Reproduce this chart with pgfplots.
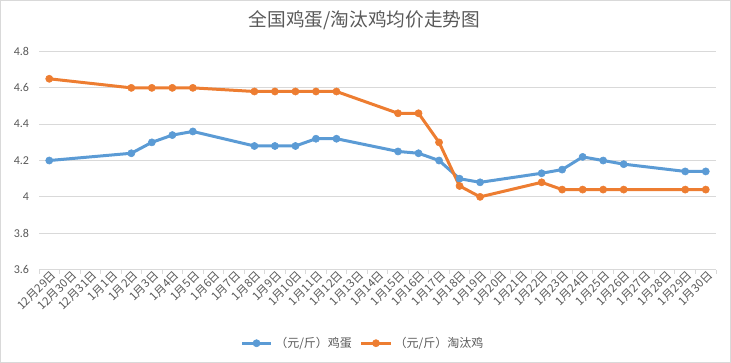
\documentclass[border=0pt]{standalone}
\usepackage{pgfplots}
\pgfplotsset{compat=1.18}
\usepackage{fontspec}
\setmainfont{Carlito}
\newfontfamily\cjk{Noto Sans CJK SC}
\definecolor{cblue}{HTML}{5B9BD5}
\definecolor{corange}{HTML}{ED7D31}
\definecolor{cgrid}{HTML}{D9D9D9}
\definecolor{ctext}{HTML}{595959}
\begin{document}
\begin{tikzpicture}
\path[use as bounding box] (0pt,0pt) rectangle (548.25pt,272.25pt);
\draw[cgrid,line width=0.75pt] (0.375pt,0.375pt) rectangle (547.875pt,271.875pt);
\node[text=ctext,font=\cjk\fontsize{14pt}{16pt}\selectfont] at (273.4pt,257.25pt) {全国鸡蛋/淘汰鸡均价走势图};
\begin{axis}[
  at={(29.25pt,70.1pt)}, anchor=south west,
  width=507.75pt, height=163.5pt, scale only axis,
  xmin=-0.5, xmax=32.5, ymin=3.6, ymax=4.8,
  ytick={3.6,3.8,4.0,4.2,4.4,4.6,4.8},
  yticklabels={3.6,3.8,4,4.2,4.4,4.6,4.8},
  xtick={0,...,32},
  xticklabels={12月29日,12月30日,12月31日,1月1日,1月2日,1月3日,1月4日,1月5日,1月6日,1月7日,1月8日,1月9日,1月10日,1月11日,1月12日,1月13日,1月14日,1月15日,1月16日,1月17日,1月18日,1月19日,1月20日,1月21日,1月22日,1月23日,1月24日,1月25日,1月26日,1月27日,1月28日,1月29日,1月30日},
  minor xtick={-0.5,0.5,...,32.5},
  major tick length=0pt, minor tick length=3pt,
  tick align=outside, xtick pos=bottom, ytick pos=left,
  minor tick style={cgrid,line width=0.75pt},
  axis line style={draw=none},
  ymajorgrids, grid style={cgrid,line width=0.75pt},
  yticklabel style={text=ctext,font=\fontsize{9pt}{11pt}\selectfont,xshift=-4pt},
  xticklabel style={text=ctext,font=\cjk\fontsize{8.6pt}{10pt}\selectfont,rotate=45,anchor=east,xshift=1.5pt,yshift=-4.5pt,inner sep=1pt},
  legend style={draw=none,fill=none,at={(0.479,-0.338)},anchor=center,
    font=\cjk\fontsize{9pt}{11pt}\selectfont,text=ctext,legend columns=2,
    /tikz/every even column/.append style={column sep=4pt}},
  legend image code/.code={\draw[mark repeat=2,mark phase=2] plot coordinates {(0pt,0pt) (10.9pt,0pt) (21.8pt,0pt)};},
  every axis plot/.append style={line width=2.25pt, mark=*, mark size=2.7pt, line join=round},
]
\addplot[cblue, mark options={solid,fill=cblue,draw=cblue,line width=0.4pt}] coordinates {
(0,4.20) (4,4.24) (5,4.30) (6,4.34) (7,4.36) (10,4.28) (11,4.28) (12,4.28) (13,4.32) (14,4.32)
(17,4.25) (18,4.24) (19,4.20) (20,4.10) (21,4.08) (24,4.13) (25,4.15) (26,4.22) (27,4.20) (28,4.18) (31,4.14) (32,4.14)};
\addlegendentry{（元/斤）鸡蛋}
\addplot[corange, mark options={solid,fill=corange,draw=corange,line width=0.4pt}] coordinates {
(0,4.65) (4,4.60) (5,4.60) (6,4.60) (7,4.60) (10,4.58) (11,4.58) (12,4.58) (13,4.58) (14,4.58)
(17,4.46) (18,4.46) (19,4.30) (20,4.06) (21,4.00) (24,4.08) (25,4.04) (26,4.04) (27,4.04) (28,4.04) (31,4.04) (32,4.04)};
\addlegendentry{（元/斤）淘汰鸡}
\end{axis}
\end{tikzpicture}
\end{document}
